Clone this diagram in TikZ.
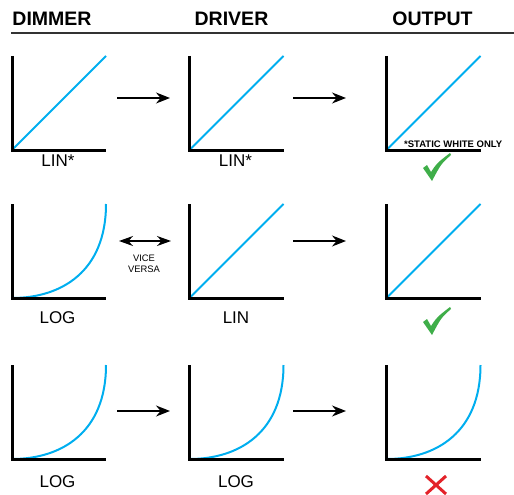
\documentclass[tikz,border=0pt]{standalone}
\usepackage{fontspec}
\setmainfont{Liberation Sans}
\usetikzlibrary{positioning, arrows.meta}

\definecolor{curveblue}{RGB}{0,174,239}
\definecolor{okgreen}{RGB}{63,174,73}
\definecolor{nored}{RGB}{227,34,41}

\tikzset{
  graph/.style={minimum width=94pt, minimum height=94pt, inner sep=0pt, outer sep=0pt},
  axis/.style={line width=3pt, black, line join=miter},
  curve/.style={line width=2pt, curveblue},
  flow/.style={line width=1.4pt, -{Stealth[length=14pt,width=11pt]}},
  both/.style={line width=1.4pt, {Stealth[length=14pt,width=10pt]}-{Stealth[length=14pt,width=10pt]}},
  head/.style={anchor=base, inner sep=0pt, font=\bfseries\fontsize{19.5}{22}\selectfont},
  kind/.style={anchor=base, inner sep=0pt, font=\fontsize{17}{20}\selectfont},
  tick/.pic={\fill[okgreen] (-10,-2) -- (-6,-5) -- (-2,2) .. controls (4,-7) .. (17,-17)
             -- (18,-15) .. controls (8,-6) .. (-1,11) -- cycle;}
}

\newcommand\axes[1]{\draw[axis] (#1.north west) -- (#1.south west) -- (#1.south east);}
\newcommand\lincurve[1]{\draw[curve] (#1.south west) -- (#1.north east);}
\newcommand\logcurve[1]{\draw[curve, shift={(#1.south west)}]
  (0,0) .. controls (50,0) and (94,-27) .. (94,-94);}

\begin{document}
\begin{tikzpicture}[x=1pt, y=-1pt]
  %frame
  \useasboundingbox (0,0) rectangle (514,495);
  % Column heads
  \node[head] (dimmer) at (52,26) {DIMMER};
  \node[head] (driver) at (231.5,26) {DRIVER};
  \node[head] (output) at (432.5,26) {OUTPUT};
  \coordinate (rulel) at (11,33);
  \coordinate (ruler) at (514,33);
  \draw[line width=1.5pt, black!80] (rulel) -- (ruler);

  % Graphs
  \node[graph] (dim1) at (59,103) {};
  \node[graph] (drv1) at (236.5,103) {};
  \node[graph] (out1) at (433.5,103) {};
  \node[graph] (dim2) at (59,251) {};
  \node[graph] (drv2) at (236.5,251) {};
  \node[graph] (out2) at (433.5,251) {};
  \node[graph] (dim3) at (59,412) {};
  \node[graph] (drv3) at (236.5,412) {};
  \node[graph] (out3) at (433.5,412) {};

  \lincurve{dim1} \lincurve{drv1} \lincurve{out1}
  \logcurve{dim2} \lincurve{drv2} \lincurve{out2}
  \logcurve{dim3} \logcurve{drv3} \logcurve{out3}
  \foreach \g in {dim1,drv1,out1,dim2,drv2,out2,dim3,drv3,out3}
    {\axes{\g}}

  % Labels
  \node[kind] (kdim1) at (58,166) {LIN*};
  \node[kind] (kdrv1) at (235.5,166) {LIN*};
  \node[anchor=base west, inner sep=0pt, font=\bfseries\fontsize{9.5}{11}\selectfont]
    (note) at (404,147) {*STATIC WHITE ONLY};
  \node[kind] (kdim2) at (57.5,323) {LOG};
  \node[kind] (kdrv2) at (236,323) {LIN};
  \node[kind] (kdim3) at (57.5,487) {LOG};
  \node[kind] (kdrv3) at (236,487) {LOG};

  % Arrows
  \coordinate (a1) at (117,98);  \coordinate (b1) at (170,98);
  \coordinate (c1) at (293,98);  \coordinate (d1) at (346,98);
  \coordinate (a2) at (119,241); \coordinate (b2) at (171,241);
  \coordinate (c2) at (293,241); \coordinate (d2) at (346,241);
  \coordinate (a3) at (117,411); \coordinate (b3) at (170,411);
  \coordinate (c3) at (293,411); \coordinate (d3) at (346,411);
  \draw[flow] (a1) -- (b1);
  \draw[flow] (c1) -- (d1);
  \draw[both] (a2) -- (b2);
  \node[align=center, inner sep=0pt, font=\fontsize{9.4}{10.5}\selectfont]
    (vice) at (144,264) {VICE\\VERSA};
  \draw[flow] (c2) -- (d2);
  \draw[flow] (a3) -- (b3);
  \draw[flow] (c3) -- (d3);

  % Results
  \pic at (433,170) {tick};
  \pic at (433,324) {tick};
  \draw[nored, line width=3pt] (426,476) -- (446,494) (446,476) -- (426,494);
\end{tikzpicture}
\end{document}
